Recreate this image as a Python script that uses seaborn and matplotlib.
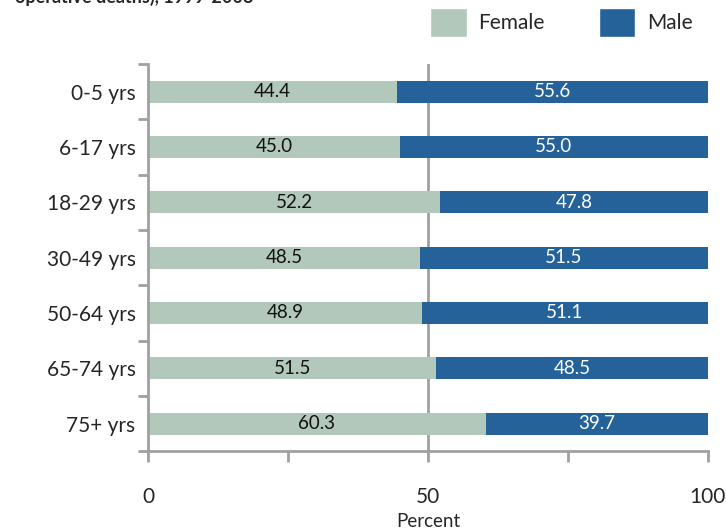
import matplotlib
matplotlib.use("Agg")
import matplotlib.pyplot as plt
import seaborn as sns
import pandas as pd
from matplotlib.patches import Patch

# Share of each age group by sex (percent)
age_groups = ["0-5 yrs", "6-17 yrs", "18-29 yrs", "30-49 yrs", "50-64 yrs", "65-74 yrs", "75+ yrs"]
female = [44.4, 45.0, 52.2, 48.5, 48.9, 51.5, 60.3]
male = [55.6, 55.0, 47.8, 51.5, 51.1, 48.5, 39.7]
x_ticks = [0, 25, 50, 75, 100]
x_tick_labels = ["0", "", "50", "", "100"]

female_color = "#B2C8BB"
male_color = "#246299"
grey = "#A0A0A0"

df = pd.DataFrame({"age": age_groups, "female": female, "male": male})
df["total"] = df["female"] + df["male"]

sns.set_theme(style="white")
plt.rcParams["font.family"] = ["Lato", "DejaVu Sans"]

fig = plt.figure(figsize=(7.26, 5.29), dpi=100)
ax = fig.add_axes([0.204, 0.147, 0.771, 0.732])

# Male segment drawn as the full stack, female segment on top of it
sns.barplot(data=df, y="age", x="total", color=male_color, orient="h",
            width=0.4, saturation=1, ax=ax, linewidth=0)
sns.barplot(data=df, y="age", x="female", color=female_color, orient="h",
            width=0.4, saturation=1, ax=ax, linewidth=0)

for i, (f, m) in enumerate(zip(df["female"], df["male"])):
    ax.text(f / 2, i, f"{f:.1f}", ha="center", va="center", fontsize=13.5, color="#111111")
    ax.text(f + m / 2, i, f"{m:.1f}", ha="center", va="center", fontsize=13.5, color="white")

ax.axvline(50, color=grey, lw=2, zorder=0)

ax.set_xlim(0, 100)
ax.set_ylim(len(age_groups) - 0.5, -0.5)
ax.set_xticks(x_ticks)
ax.set_xticklabels(x_tick_labels, fontsize=15)
ax.set_yticks(range(len(age_groups)))
ax.set_yticklabels(age_groups, fontsize=15)
ax.set_ylabel("")
ax.set_xlabel("Percent", fontsize=13.5, labelpad=4)

# Category separators as outward ticks on the y axis
ax.set_yticks([i - 0.5 for i in range(len(age_groups) + 1)], minor=True)
ax.tick_params(axis="y", which="major", length=0, pad=9)
ax.tick_params(axis="y", which="minor", length=7, width=2, color=grey, left=True)
ax.tick_params(axis="x", which="major", length=8, width=2, color=grey, bottom=True, pad=18)

for side in ["top", "right"]:
    ax.spines[side].set_visible(False)
for side in ["left", "bottom"]:
    ax.spines[side].set_color(grey)
    ax.spines[side].set_linewidth(2)

handles = [Patch(facecolor=female_color, label="Female"),
           Patch(facecolor=male_color, label="Male")]
fig.legend(handles=handles, loc="upper left", bbox_to_anchor=(0.567, 1.02), ncol=2,
           frameon=False, fontsize=15, handlelength=1.75, handleheight=1.75,
           columnspacing=2.6, handletextpad=0.55)

fig.text(0.02, 1.022, "operative deaths), 1999-2008", fontsize=13, fontweight="bold",
         ha="left", va="top")

fig.savefig("out.png", dpi=100)
